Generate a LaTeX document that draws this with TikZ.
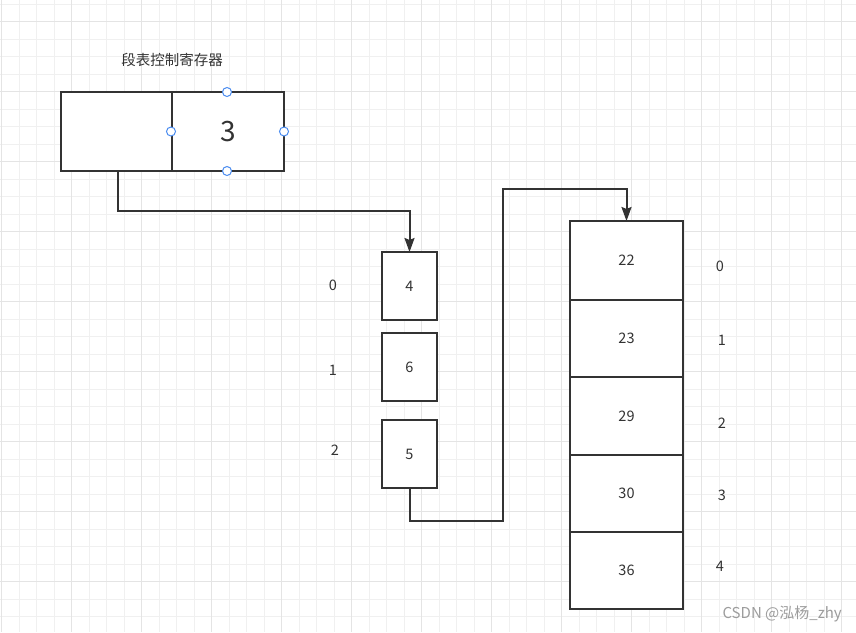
\documentclass[tikz,border=0pt]{standalone}
\usepackage{fontspec}
\newfontfamily\cjk{Noto Sans CJK SC}
\usetikzlibrary{arrows.meta}
\definecolor{gmin}{HTML}{F0F0F0}
\definecolor{gmaj}{HTML}{E4E4E4}
\definecolor{ink}{HTML}{333333}
\definecolor{handle}{HTML}{4A8CF0}
\definecolor{wm}{HTML}{9C9C9C}
\tikzset{
  gridminor/.style={draw=gmin, line width=1pt},
  gridmajor/.style={draw=gmaj, line width=1.3pt},
  cell/.style={draw=ink, line width=2pt, fill=white, inner sep=0pt, outer sep=0pt, text=ink, font=\cjk\fontsize{14.5}{16}\selectfont},
  lbl/.style={text=ink, inner sep=0pt, font=\cjk\fontsize{14.5}{16}\selectfont},
  conn/.style={draw=ink, line width=2pt},
  arr/.style={conn, -{Stealth[length=14pt,width=10pt,inset=2pt]}},
  hdl/.style={circle, draw=handle, fill=white, line width=1pt, minimum size=9pt, inner sep=0pt}
}
\begin{document}
\begin{tikzpicture}[x=1pt,y=-1pt]
\path[fill=white,use as bounding box] (0,0) rectangle (856,632);
% grid
\foreach \i in {0,...,48} \draw[gridminor] ({1.5+17.5*\i},0) -- ({1.5+17.5*\i},632);
\foreach \j in {0,...,35} \draw[gridminor] (0,{4.2+17.5*\j}) -- (856,{4.2+17.5*\j});
\foreach \i in {0,...,12} \draw[gridmajor] ({1.5+70*\i},0) -- ({1.5+70*\i},632);
\foreach \j in {0,...,8} \draw[gridmajor] (0,{21.7+70*\j}) -- (856,{21.7+70*\j});

% segment table control register
\node[lbl, font=\cjk\fontsize{14.5}{16}\selectfont] (title) at (172,60) {段表控制寄存器};
\node[cell, minimum width=111pt, minimum height=79pt] (regL) at (116.5,131.5) {};
\node[cell, minimum width=112pt, minimum height=79pt, font=\cjk\fontsize{28}{30}\selectfont] (regR) at (228,131.5) {3};

% segment table
\node[cell, minimum width=55pt, minimum height=68pt] (b4) at (409.5,286) {4};
\node[cell, minimum width=55pt, minimum height=68pt] (b6) at (409.5,367) {6};
\node[cell, minimum width=55pt, minimum height=68pt] (b5) at (409.5,454) {5};
\node[lbl] (i0) at (333,285) {0};
\node[lbl] (i1) at (333,370) {1};
\node[lbl] (i2) at (335,450) {2};

% page table
\node[cell, minimum width=113pt, minimum height=79pt] (c0) at (626.5,260.5) {22};
\node[cell, minimum width=113pt, minimum height=77pt] (c1) at (626.5,338.5) {23};
\node[cell, minimum width=113pt, minimum height=78pt] (c2) at (626.5,416) {29};
\node[cell, minimum width=113pt, minimum height=77pt] (c3) at (626.5,493.5) {30};
\node[cell, minimum width=113pt, minimum height=77pt] (c4) at (626.5,570.5) {36};
\node[lbl] (p0) at (720,266) {0};
\node[lbl] (p1) at (722,340) {1};
\node[lbl] (p2) at (722,423) {2};
\node[lbl] (p3) at (722,495) {3};
\node[lbl] (p4) at (720,566) {4};

% connectors
\coordinate (k1) at (118,211);
\draw[arr] (118,171) -- (k1) -| (b4.north);
\coordinate (k2) at (503,521);
\coordinate (k3) at (503,189);
\draw[arr] (b5.south) |- (k2) -- (k3) -| (c0.north);

% handles
\node[hdl] (h1) at (227,92) {};
\node[hdl] (h2) at (171,131.5) {};
\node[hdl] (h3) at (284,131.5) {};
\node[hdl] (h4) at (227,171) {};

% watermark
\node[lbl, text=wm, anchor=east, font=\cjk\fontsize{15}{17}\selectfont] (wmk) at (842,614) {CSDN @泓杨\_zhy};
\end{tikzpicture}
\end{document}
